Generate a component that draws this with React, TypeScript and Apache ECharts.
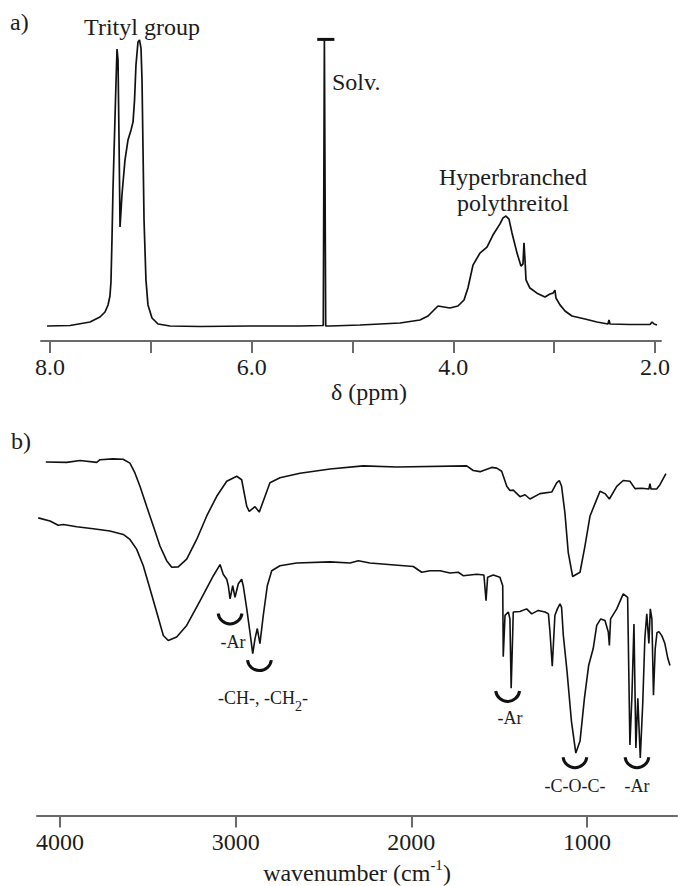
import React, { useEffect, useRef } from 'react';
import * as echarts from 'echarts';

// ---------- Panel a: 1H NMR ----------
const nmrPpm = [
  8.03, 7.802, 7.604, 7.505, 7.455, 7.425, 7.406, 7.396, 7.386, 7.376, 7.351, 7.336, 7.326, 7.316, 7.306,
  7.287, 7.257, 7.227, 7.197, 7.177, 7.162, 7.148, 7.128, 7.113, 7.098, 7.088, 7.078, 7.068, 7.049, 7.029,
  6.989, 6.929, 6.81, 6.513, 6.017, 5.521, 5.303, 5.29, 5.279, 5.277, 5.266, 5.223, 4.926, 4.529, 4.331,
  4.251, 4.192, 4.152, 4.093, 4.033, 3.954, 3.894, 3.855, 3.805, 3.736, 3.666, 3.607, 3.537, 3.507, 3.478,
  3.448, 3.418, 3.368, 3.329, 3.309, 3.299, 3.289, 3.279, 3.24, 3.17, 3.091, 3.041, 3.011, 2.992, 2.982,
  2.942, 2.892, 2.823, 2.694, 2.575, 2.466, 2.456, 2.446, 2.248, 2.049, 2.029, 2.009, 1.98,
];
const nmrIntensity = [
  4.98, 5.15, 6.31, 7.97, 9.63, 11.96, 14.95, 19.6, 33.6, 50.2, 80.1, 97.0, 93.4, 66.8, 37.9,
  48.5, 60.1, 66.8, 70.1, 72.8, 80.1, 91.7, 99.3, 100, 97.3, 86.7, 63.5, 40.2, 20.3, 12.0,
  7.64, 5.65, 4.98, 4.82, 4.98, 4.98, 5.15, 5.2, 100, 100, 5.0, 4.98, 5.32, 5.98, 6.98,
  8.31, 10.3, 11.63, 11.3, 10.96, 11.63, 13.62, 17.6, 25.2, 29.2, 31.2, 35.2, 38.9, 40.9, 41.5,
  40.5, 35.9, 29.2, 24.9, 25.6, 32.6, 26.9, 20.3, 17.6, 15.9, 14.6, 15.6, 15.9, 16.9, 14.3,
  12.0, 9.97, 8.31, 7.31, 6.31, 5.65, 6.98, 5.65, 5.48, 5.48, 6.31, 5.65, 5.32,
];
const solventCapPpm = [5.35, 5.18];
const solventCapIntensity = [100.2, 100.2];
const nmrTickValues = [2, 3, 4, 5, 6, 7, 8];
const nmrLabelValues = [2, 4, 6, 8];

// ---------- Panel b: FT-IR ----------
const irTopWn = [
  4081, 3962, 3886, 3791, 3772, 3698, 3641, 3602, 3573, 3545, 3507, 3469, 3431, 3393, 3364, 3327, 3279,
  3222, 3165, 3108, 3051, 2994, 2966, 2937, 2923, 2890, 2866, 2833, 2805, 2748, 2634, 2463, 2274, 2084,
  1685, 1648, 1609, 1543, 1514, 1486, 1457, 1439, 1420, 1382, 1353, 1325, 1268, 1201, 1173, 1158, 1145,
  1126, 1107, 1082, 1040, 1012, 983, 945, 926, 898, 873, 831, 794, 756, 727, 689, 648, 642, 636, 604,
  585, 551,
];
const irTopT = [
  91.7, 91.6, 92.1, 91.6, 92.3, 92.5, 92.4, 91.4, 88.8, 85.4, 80.2, 75.1, 69.9, 66.1, 64.4, 64.5, 66.5,
  71.6, 77.7, 82.8, 86.7, 88.0, 87.1, 80.2, 78.9, 80.1, 78.7, 82.8, 86.3, 87.6, 88.8, 89.9, 90.7, 90.4,
  90.7, 89.5, 89.2, 90.3, 90.1, 89.3, 85.4, 84.3, 84.4, 82.7, 83.2, 82.1, 83.5, 83.9, 86.3, 86.9, 85.4,
  78.5, 68.2, 62.0, 63.1, 69.9, 77.7, 82.0, 84.1, 83.5, 82.1, 85.4, 86.9, 86.7, 84.8, 84.9, 84.7, 86.1, 84.7, 84.7,
  85.8, 88.7,
];
const irBotWn = [
  4124, 4057, 4010, 3981, 3905, 3811, 3716, 3640, 3602, 3564, 3526, 3488, 3450, 3412, 3384, 3336, 3279,
  3203, 3127, 3089, 3071, 3051, 3042, 3032, 3017, 3004, 2985, 2966, 2957, 2937, 2919, 2903, 2890, 2877,
  2862, 2843, 2820, 2795, 2748, 2653, 2463, 2349, 2302, 2236, 1989, 1941, 1894, 1837, 1780, 1733, 1705,
  1628, 1587, 1575, 1566, 1534, 1496, 1480, 1477, 1467, 1448, 1439, 1432, 1424, 1420, 1382, 1344, 1315,
  1278, 1239, 1220, 1211, 1198, 1183, 1169, 1154, 1145, 1135, 1114, 1089, 1064, 1040, 1015, 991, 965,
  945, 922, 898, 879, 873, 866, 831, 794, 769, 756, 745, 733, 722, 711, 697, 683, 671, 660, 648, 640,
  631, 622, 612, 602, 591, 574, 557, 540, 528,
];
const irBotT = [
  77.2, 76.4, 75.3, 75.5, 74.9, 74.4, 73.8, 72.9, 71.6, 69.1, 64.8, 58.8, 52.8, 46.7, 45.4, 46.3, 49.3,
  55.7, 62.2, 65.1, 62.6, 61.3, 59.6, 56.2, 59.6, 56.6, 60.1, 61.3, 59.6, 53.6, 47.6, 42.0, 45.9, 48.5,
  44.6, 51.9, 59.6, 63.5, 64.8, 65.5, 65.8, 65.5, 66.1, 65.5, 64.6, 63.1, 63.5, 63.5, 62.9, 63.1, 62.2,
  62.6, 62.4, 55.7, 61.8, 62.4, 61.8, 59.6, 41.2, 51.9, 52.8, 51.0, 33.0, 45.9, 52.8, 52.9, 53.6, 52.3,
  53.2, 52.8, 52.3, 47.6, 38.7, 51.9, 53.6, 54.9, 54.0, 46.7, 37.4, 24.5, 16.2, 19.3, 30.4, 38.9, 43.3,
  49.3, 51.0, 50.6, 47.6, 44.1, 51.0, 53.6, 57.5, 56.6, 18.3, 30.4, 49.7, 17.5, 30.4, 14.9, 29.1, 45.9, 52.3, 44.6, 53.6,
  51.0, 31.2, 43.3, 47.4, 47.7, 46.6, 44.6, 40.7, 38.9,
];
const irTickValues = [1000, 2000, 3000, 4000];

// annotation anchors in data coordinates (wavenumber, %)
const bracketWn = [3032, 2865, 1452, 1069, 716];
const bracketT = [52.8, 40.7, 32.7, 15.5, 15.5];
const labelWn = [3015, 2845, 1439, 1069, 716];
const labelT = [45.1, 30.4, 25.3, 7.7, 7.7];
const labelTexts = ['{a|-Ar}', '{a|-CH-, -CH}{s|2}{a|-}', '{a|-Ar}', '{a|-C-O-C-}', '{a|-Ar}'];

const FONT = '"Liberation Serif", "Times New Roman", Tinos, "DejaVu Serif", serif';
const INK = '#111';
const TXT = '#1c1c1c';
const AXIS = '#6a6a6a';

export default function App() {
  const ref = useRef<HTMLDivElement>(null);
  useEffect(() => {
    if (!ref.current) return;
    const chart = echarts.init(ref.current, undefined, { renderer: 'svg' });
    const zip = (xs: number[], ys: number[]) => xs.map((x, i) => [x, ys[i]]);

    const commonX = (
      min: number, max: number, ticks: number[], labels: number[], fmt: (v: number) => string,
      name: string, gap: number, grid: number, pad: number[],
    ) => ({
      type: 'value',
      gridIndex: grid,
      inverse: true,
      min,
      max,
      splitLine: { show: false },
      axisLine: { show: true, onZero: false, lineStyle: { color: AXIS, width: 2 } },
      axisTick: { show: true, length: 12, inside: false, customValues: ticks, lineStyle: { color: AXIS, width: 2 } },
      axisLabel: { show: true, customValues: labels, margin: 14, formatter: fmt, color: TXT, fontSize: 24, fontFamily: FONT },
      name,
      nameLocation: 'middle',
      nameGap: gap,
      nameTextStyle: {
        color: TXT,
        fontSize: 24,
        fontFamily: FONT,
        padding: pad,
        rich: {
          a: { fontSize: 24, fontFamily: FONT, color: TXT, verticalAlign: 'middle' },
          s: { fontSize: 15, fontFamily: FONT, color: TXT, verticalAlign: 'middle', padding: [0, 0, 16, 0] },
        },
      },
    });

    chart.setOption({
      animation: false,
      backgroundColor: '#fff',
      textStyle: { fontFamily: FONT },
      grid: [
        { left: 41, right: 17, top: 40, height: 301 },
        { left: 37, right: 1, top: 430, height: 388 },
      ],
      xAxis: [
        commonX(1.94, 8.09, nmrTickValues, nmrLabelValues, (v: number) => v.toFixed(1), '{a|δ (ppm)}', 26, 0, [0, 0, 0, 36]),
        commonX(488, 4131, irTickValues, irTickValues, (v: number) => String(v), '{a|wavenumber (cm}{s|-1}{a|)}', 42, 1, [0, 0, 0, 0]),
      ],
      yAxis: [
        { type: 'value', gridIndex: 0, min: 0, max: 100, show: false },
        { type: 'value', gridIndex: 1, min: 0, max: 100, show: false },
      ],
      series: [
        {
          type: 'line', xAxisIndex: 0, yAxisIndex: 0, data: zip(nmrPpm, nmrIntensity),
          showSymbol: false, symbol: 'none', clip: false,
          lineStyle: { color: INK, width: 1.7 },
        },
        {
          type: 'line', xAxisIndex: 0, yAxisIndex: 0, data: zip(solventCapPpm, solventCapIntensity),
          showSymbol: false, symbol: 'none', clip: false,
          lineStyle: { color: INK, width: 3 },
        },
        {
          type: 'line', xAxisIndex: 1, yAxisIndex: 1, data: zip(irTopWn, irTopT),
          showSymbol: false, symbol: 'none', clip: false,
          lineStyle: { color: INK, width: 1.6 },
        },
        {
          type: 'line', xAxisIndex: 1, yAxisIndex: 1, data: zip(irBotWn, irBotT),
          showSymbol: false, symbol: 'none', clip: false,
          lineStyle: { color: INK, width: 1.6 },
        },
        {
          type: 'custom', xAxisIndex: 1, yAxisIndex: 1, data: zip(bracketWn, bracketT), clip: false,
          renderItem: (_p: any, api: any) => {
            const c = api.coord([api.value(0), api.value(1)]);
            return {
              type: 'arc',
              shape: { cx: c[0], cy: c[1], r: 12, startAngle: Math.PI * 0.04, endAngle: Math.PI * 0.96, clockwise: true },
              style: { stroke: INK, lineWidth: 3, fill: null },
            };
          },
        },
        {
          type: 'custom', xAxisIndex: 1, yAxisIndex: 1, data: labelWn.map((w, i) => [w, labelT[i], i]), clip: false,
          renderItem: (_p: any, api: any) => {
            const c = api.coord([api.value(0), api.value(1)]);
            const idx = api.value(2);
            return {
              type: 'text',
              x: c[0],
              y: c[1],
              style: {
                text: labelTexts[idx],
                align: 'center',
                verticalAlign: 'middle',
                fill: TXT,
                rich: {
                  a: { fontSize: 18, fontFamily: FONT, fill: TXT, verticalAlign: 'middle' },
                  s: { fontSize: 14, fontFamily: FONT, fill: TXT, verticalAlign: 'middle', padding: [16, 0, 0, 0] },
                },
              },
            };
          },
        },
      ],
      graphic: [
        { type: 'text', left: 10, top: 10, style: { text: 'a)', fontSize: 24, fontFamily: FONT, fill: TXT } },
        { type: 'text', left: 11, top: 429, style: { text: 'b)', fontSize: 24, fontFamily: FONT, fill: TXT } },
        { type: 'text', x: 142, y: 27, style: { text: 'Trityl group', fontSize: 24, fontFamily: FONT, fill: TXT, align: 'center', verticalAlign: 'middle' } },
        { type: 'text', x: 332, y: 82, style: { text: 'Solv.', fontSize: 24, fontFamily: FONT, fill: TXT, align: 'left', verticalAlign: 'middle' } },
        { type: 'text', x: 513, y: 177, style: { text: 'Hyperbranched', fontSize: 24, fontFamily: FONT, fill: TXT, align: 'center', verticalAlign: 'middle' } },
        { type: 'text', x: 513, y: 203, style: { text: 'polythreitol', fontSize: 24, fontFamily: FONT, fill: TXT, align: 'center', verticalAlign: 'middle' } },
      ],
    });
    return () => chart.dispose();
  }, []);
  return <div ref={ref} style={{ position: 'absolute', left: 0, top: 0, width: 678, height: 886 }} />;
}
